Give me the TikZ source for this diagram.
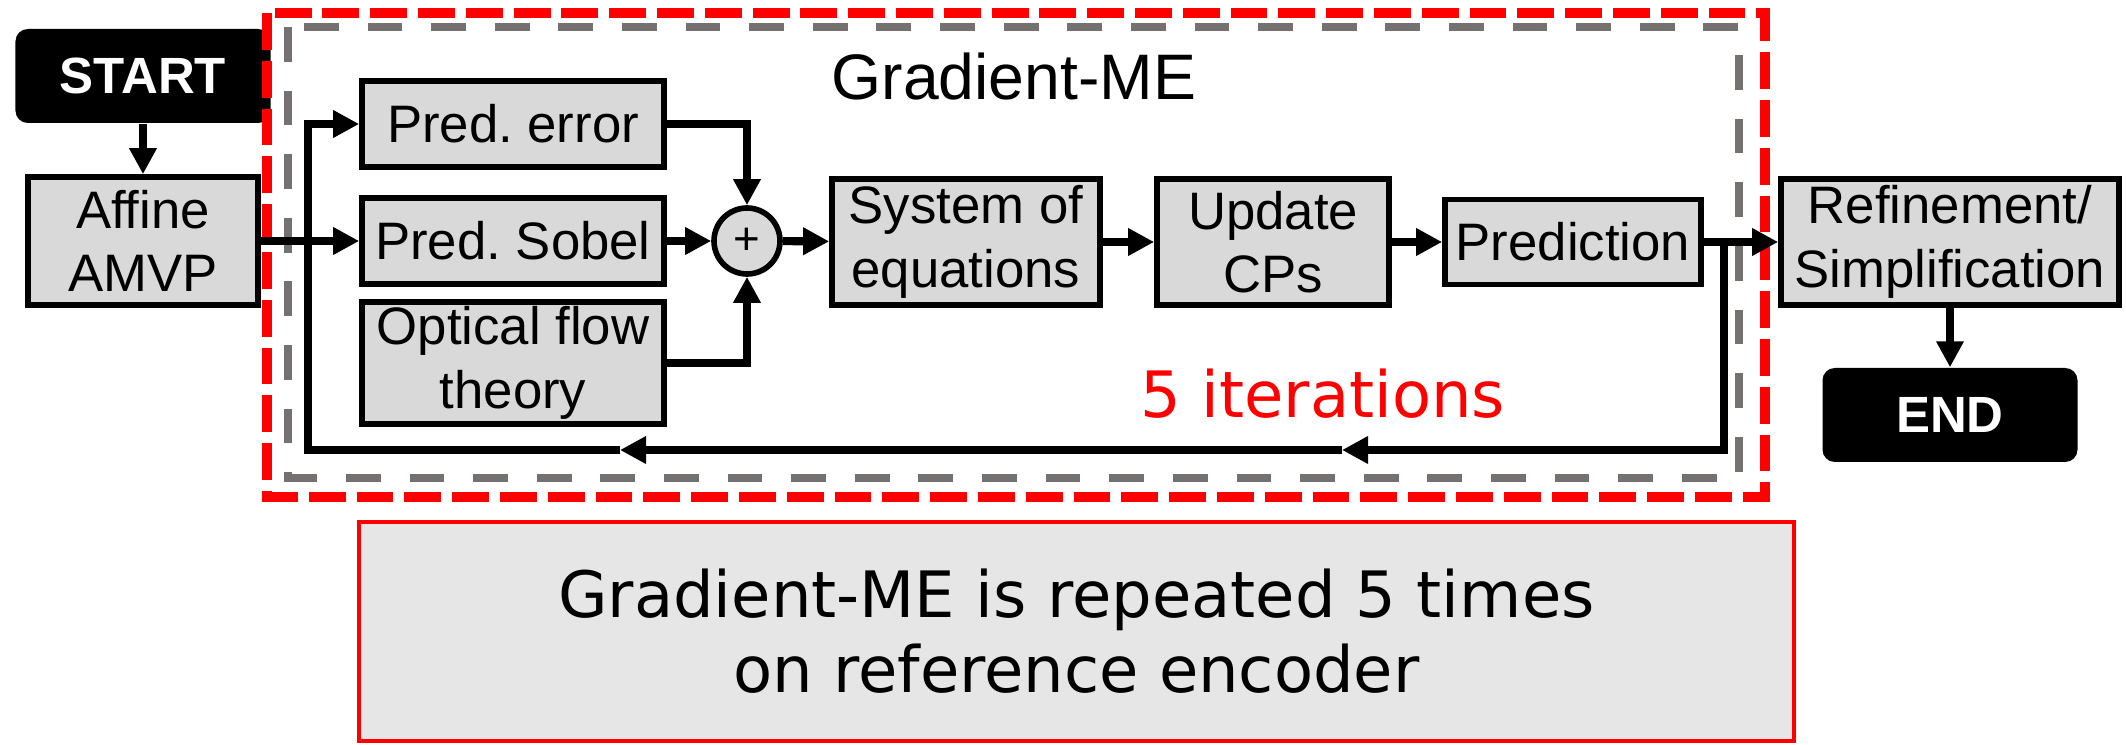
\documentclass[tikz,border=0pt]{standalone}
\usepackage{fontspec}
\setmainfont{Liberation Sans}
\newfontfamily\djv{DejaVu Sans}
\usepackage{tikz}
\usetikzlibrary{arrows.meta}
\tikzset{>={Triangle[length=7.4pt,width=7.4pt]}}
\usepackage{xcolor}
\definecolor{boxgray}{HTML}{D9D9D9}
\definecolor{notegray}{HTML}{E6E6E6}
\definecolor{framegray}{HTML}{767171}
\definecolor{redline}{HTML}{FF0000}
\frenchspacing

\begin{document}
\begin{tikzpicture}[
    blk/.style={draw, line width=1.6pt, fill=boxgray, inner sep=0pt, align=center,
                font=\fontsize{15}{18}\selectfont},
    term/.style={fill=black, text=white, rounded corners=3.5pt, inner sep=0pt,
                 minimum width=2.55cm, minimum height=0.94cm,
                 font=\fontsize{14.5}{17}\selectfont\bfseries},
    conn/.style={->, line width=2.3pt}
  ]
                \useasboundingbox (0,0) rectangle (21.26,-7.45);
                % Start
                \node[term] (start) at (1.43,-0.76) {START};
                % Iteration frames
                \draw[redline, line width=2.6pt, dash pattern=on 10.5pt off 3.1pt]
                    (2.67,-0.13) rectangle (17.65,-4.97);
                \draw[framegray, line width=2.3pt, dash pattern=on 9.9pt off 8.2pt]
                    (2.88,-0.27) rectangle (17.39,-4.78);
                \node[font=\fontsize{18.3}{21}\selectfont] (title) at (10.14,-0.77) {Gradient-ME};
                % Blocks
                \node[blk, minimum width=2.30cm, minimum height=1.28cm] (amvp) at (1.43,-2.41) {Affine\\AMVP};
                \node[blk, minimum width=3.02cm, minimum height=0.86cm] (perr) at (5.13,-1.24) {Pred. error};
                \node[blk, minimum width=3.02cm, minimum height=0.86cm] (sobel) at (5.13,-2.41) {Pred. Sobel};
                \node[blk, minimum width=3.02cm, minimum height=1.22cm] (oflow) at (5.13,-3.63) {Optical flow\\theory};
                \node[blk, circle, minimum size=0.66cm, font=\fontsize{13}{13}\selectfont] (plus) at (7.47,-2.41) {+};
                \node[blk, minimum width=2.68cm, minimum height=1.26cm] (syseq) at (9.66,-2.42) {System of\\equations};
                \node[blk, minimum width=2.32cm, minimum height=1.26cm] (upd) at (12.73,-2.42) {Update\\CPs};
                \node[blk, minimum width=2.56cm, minimum height=0.85cm] (pred) at (15.73,-2.42) {Prediction};
                \node[blk, minimum width=3.38cm, minimum height=1.26cm] (refine) at (19.50,-2.42) {Refinement/\\Simplification};
                \node[term] (stop) at (19.50,-4.15) {END};
                \node[redline, font=\djv\fontsize{18.2}{21}\selectfont] (iters) at (13.23,-3.94) {5 iterations};
                % Note
                \node[draw=redline, line width=1.1pt, fill=notegray, minimum width=14.35cm, minimum height=2.19cm,
                      align=center, font=\djv\fontsize{18.2}{21.3}\selectfont] (note) at (10.765,-6.315)
                      {Gradient-ME is repeated 5 times\\on reference encoder};
                % Feedback points
                \coordinate (split) at (3.08,-2.41);
                \coordinate (fbr) at (17.24,-2.42);
                \coordinate (tipA) at (13.42,-4.50);
                \coordinate (tipB) at (6.20,-4.50);
                \coordinate (fbl) at (3.08,-4.50);
                % Connectors
                \draw[conn] (start) -- (amvp);
                \draw[conn] (amvp) -- (sobel);
                \draw[conn] (perr) -| (plus);
                \draw[conn] (oflow) -| (plus);
                \draw[conn] (sobel) -- (plus);
                \draw[conn] (plus) -- (syseq);
                \draw[conn] (syseq) -- (upd);
                \draw[conn] (upd) -- (pred);
                \draw[conn] (pred) -- (refine);
                \draw[conn] (refine) -- (stop);
                % Loop back
                \draw[conn] (fbr) |- (tipA);
                \draw[conn] (tipA) -- (tipB);
                \draw[conn] (tipB) -- (fbl) |- (perr);
            \end{tikzpicture}
\end{document}
